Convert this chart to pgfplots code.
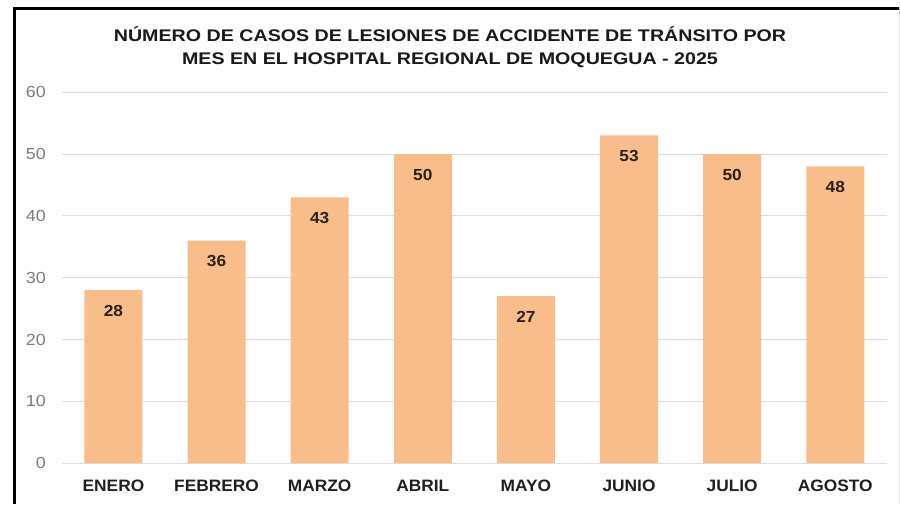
\documentclass[border=0pt]{standalone}
\usepackage{pgfplots}
\pgfplotsset{compat=1.18}
\usepackage{fontspec}
\setmainfont{Liberation Sans}
\definecolor{barc}{RGB}{248,189,139}
\definecolor{gridc}{RGB}{222,222,222}
\definecolor{tickc}{RGB}{125,125,125}
\definecolor{valc}{RGB}{45,32,25}
\begin{document}
\begin{tikzpicture}[x=1pt,y=1pt]
\useasboundingbox (0,0) rectangle (900,504);
\begin{axis}[
  at={(60,66)}, anchor=south west,
  scale only axis, width=825pt, height=371pt,
  xmin=-0.5, xmax=7.5, ymin=0, ymax=60,
  ytick={0,10,...,60},
  xtick=data,
  xticklabels={ENERO,FEBRERO,MARZO,ABRIL,MAYO,JUNIO,JULIO,AGOSTO},
  x tick label style={font=\fontsize{16.5}{18}\selectfont\bfseries, text=black!88, anchor=base, yshift=-28pt, xscale=1.05},
  y tick label style={font=\fontsize{16}{18}\selectfont, text=tickc, anchor=east, xshift=-12pt, xscale=1.12},
  /pgf/number format/assume math mode=true,
  axis line style={draw=none},
  major tick length=0pt,
  ymajorgrids, grid style={gridc, line width=1pt},
  bar width=58pt,
  nodes near coords,
  every node near coord/.append style={font=\fontsize{16}{18}\selectfont\bfseries, text=valc, anchor=base, yshift=-26pt, xscale=1.08},
  clip=false,
]
\addplot[ybar, fill=barc, draw=none] coordinates {(0,28) (1,36) (2,43) (3,50) (4,27) (5,53) (6,50) (7,48)};
\end{axis}
\node[font=\fontsize{16.8}{23}\selectfont\bfseries, align=center, text=black!90, xscale=1.17] at (450,457) {NÚMERO DE CASOS DE LESIONES DE ACCIDENTE DE TRÁNSITO POR\\MES EN EL HOSPITAL REGIONAL DE MOQUEGUA - 2025};
\draw[line width=3pt, black] (14,0) -- (14,495.5) -- (899,495.5);
\draw[line width=0.8pt, gridc] (899,495.5) -- (899,0);
\end{tikzpicture}
\end{document}
